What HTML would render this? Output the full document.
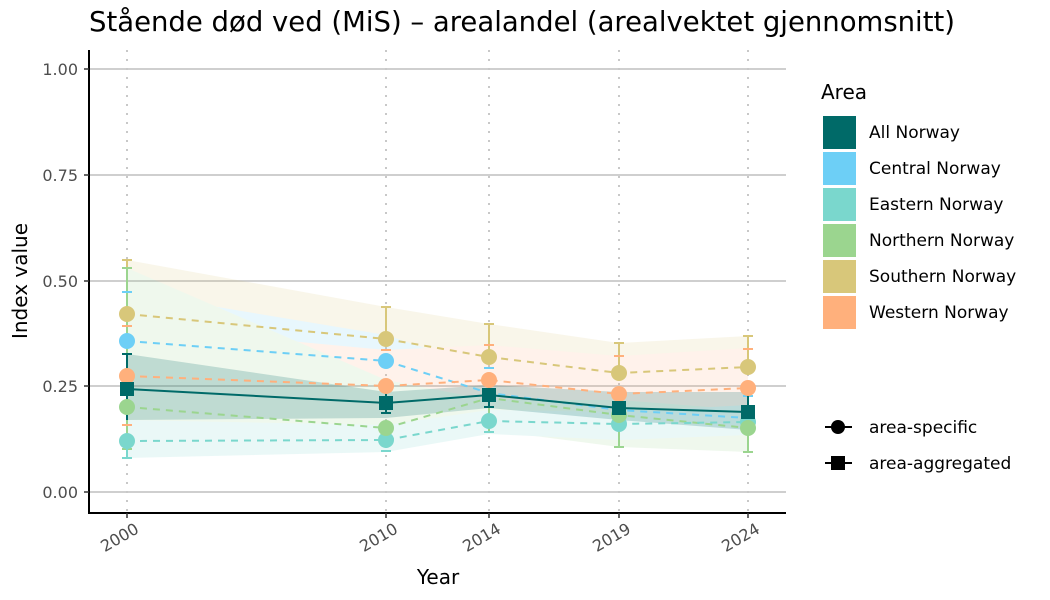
<!DOCTYPE html>
<html><head><meta charset="utf-8"><style>body{margin:0;background:#fff}svg{display:block}text{font-family:"DejaVu Sans","Liberation Sans",sans-serif}</style></head><body>
<svg width="1050" height="600" viewBox="0 0 1050 600" xmlns="http://www.w3.org/2000/svg">
<rect width="1050" height="600" fill="#fff"/>
<text x="89" y="31" font-size="27.5" textLength="866" fill="#000">Stående død ved (MiS) – arealandel (arealvektet gjennomsnitt)</text>
<g stroke="#cfcfcf" stroke-width="2">
<line x1="89" x2="786" y1="69" y2="69"/><line x1="89" x2="786" y1="175" y2="175"/><line x1="89" x2="786" y1="281" y2="281"/><line x1="89" x2="786" y1="386" y2="386"/><line x1="89" x2="786" y1="492" y2="492"/>
</g>
<g stroke="#c8c8c8" stroke-width="2" stroke-dasharray="2,7">
<line x1="127" x2="127" y1="50" y2="513"/><line x1="386" x2="386" y1="50" y2="513"/><line x1="489" x2="489" y1="50" y2="513"/><line x1="619" x2="619" y1="50" y2="513"/><line x1="748" x2="748" y1="50" y2="513"/>
</g>
<g opacity="0.15">
<polygon fill="#D8C77A" points="127,260 386,307 489,324 619,343 748,336 748,395 619,400 489,390 386,375 127,370"/>
<polygon fill="#6DCFF6" points="127,292 386,335 489,370 619,400 748,395 748,440 619,430 489,420 386,390 127,390"/>
<polygon fill="#FFB07C" points="127,326 386,350 489,345 619,356 748,348 748,420 619,430 489,415 386,420 127,425"/>
<polygon fill="#9BD58F" points="127,268 386,380 489,400 619,400 748,410 748,452 619,447 489,430 386,450 127,450"/>
<polygon fill="#7AD7CD" points="127,420 386,425 489,410 619,412 748,405 748,435 619,440 489,434 386,452 127,458"/>
</g>
<polygon fill="#006A68" opacity="0.2" points="127,354 386,392 489,385 619,392 748,392 748,430 619,420 489,408 386,418 127,420"/>
<g stroke-width="2">
<g stroke="#D8C77A"><line x1="127" x2="127" y1="260" y2="314"/><line x1="122" x2="132" y1="260" y2="260"/><line x1="386" x2="386" y1="307" y2="339"/><line x1="381" x2="391" y1="307" y2="307"/><line x1="489" x2="489" y1="324" y2="357"/><line x1="484" x2="494" y1="324" y2="324"/><line x1="619" x2="619" y1="343" y2="373"/><line x1="614" x2="624" y1="343" y2="343"/><line x1="748" x2="748" y1="336" y2="367"/><line x1="743" x2="753" y1="336" y2="336"/></g>
<g stroke="#9BD58F"><line x1="122" x2="132" y1="268" y2="268"/><line x1="127" x2="127" y1="268" y2="450"/><line x1="122" x2="132" y1="449" y2="449"/><line x1="619" x2="619" y1="415" y2="447"/><line x1="614" x2="624" y1="447" y2="447"/><line x1="748" x2="748" y1="428" y2="452"/><line x1="743" x2="753" y1="452" y2="452"/><line x1="489" x2="489" y1="398" y2="432"/></g>
<g stroke="#6DCFF6"><line x1="122" x2="132" y1="292" y2="292"/><line x1="743" x2="753" y1="396" y2="396"/><line x1="484" x2="494" y1="368" y2="368"/></g>
<g stroke="#FFB07C"><line x1="122" x2="132" y1="326" y2="326"/><line x1="122" x2="132" y1="425" y2="425"/><line x1="381" x2="391" y1="350" y2="350"/><line x1="484" x2="494" y1="345" y2="345"/><line x1="614" x2="624" y1="356" y2="356"/><line x1="743" x2="753" y1="349" y2="349"/></g>
<g stroke="#7AD7CD"><line x1="127" x2="127" y1="441" y2="458"/><line x1="122" x2="132" y1="458" y2="458"/><line x1="381" x2="391" y1="451" y2="451"/><line x1="484" x2="494" y1="432" y2="432"/></g>
<g stroke="#006A68"><line x1="127" x2="127" y1="354" y2="420"/><line x1="122" x2="132" y1="354" y2="354"/><line x1="386" x2="386" y1="392" y2="413"/><line x1="381" x2="391" y1="413" y2="413"/><line x1="489" x2="489" y1="385" y2="407"/><line x1="484" x2="494" y1="407" y2="407"/><line x1="748" x2="748" y1="395" y2="430"/></g>
</g>
<g fill="none" stroke-width="2" stroke-dasharray="7,6">
<polyline stroke="#D8C77A" points="127,314 386,339 489,357 619,373 748,367"/>
<polyline stroke="#6DCFF6" points="127,341 386,361 489,393 619,410 748,418"/>
<polyline stroke="#FFB07C" points="127,376 386,386 489,380 619,394 748,388"/>
<polyline stroke="#9BD58F" points="127,407 386,428 489,398 619,415 748,428"/>
<polyline stroke="#7AD7CD" points="127,441 386,440 489,421 619,424 748,422"/>
</g>
<polyline fill="none" stroke="#006A68" stroke-width="2" points="127,389 386,403 489,395 619,408 748,412"/>
<g>
<g fill="#7AD7CD"><circle cx="127" cy="441" r="8"/><circle cx="386" cy="440" r="8"/><circle cx="489" cy="421" r="8"/><circle cx="619" cy="424" r="8"/><circle cx="748" cy="422" r="8"/></g>
<g fill="#9BD58F"><circle cx="127" cy="407" r="8"/><circle cx="386" cy="428" r="8"/><circle cx="619" cy="415" r="8"/><circle cx="748" cy="428" r="8"/></g>
<g fill="#6DCFF6"><circle cx="127" cy="341" r="8"/><circle cx="386" cy="361" r="8"/></g>
<g fill="#D8C77A"><circle cx="127" cy="314" r="8"/><circle cx="386" cy="339" r="8"/><circle cx="489" cy="357" r="8"/><circle cx="619" cy="373" r="8"/><circle cx="748" cy="367" r="8"/></g>
<g fill="#FFB07C"><circle cx="127" cy="376" r="8"/><circle cx="386" cy="386" r="8"/><circle cx="489" cy="380" r="8"/><circle cx="619" cy="394" r="8"/><circle cx="748" cy="388" r="8"/></g>
<g fill="#006A68"><rect x="120" y="382" width="14" height="14"/><rect x="379" y="396" width="14" height="14"/><rect x="482" y="388" width="14" height="14"/><rect x="612" y="401" width="14" height="14"/><rect x="741" y="405" width="14" height="14"/></g>
</g>
<g stroke="#000" stroke-width="2"><line x1="89" x2="89" y1="50" y2="514"/><line x1="88" x2="786" y1="513" y2="513"/></g>
<g stroke="#333" stroke-width="1.5">
<line x1="84" x2="89" y1="69" y2="69"/><line x1="84" x2="89" y1="175" y2="175"/><line x1="84" x2="89" y1="281" y2="281"/><line x1="84" x2="89" y1="386" y2="386"/><line x1="84" x2="89" y1="492" y2="492"/>
<line x1="127" x2="127" y1="513" y2="518"/><line x1="386" x2="386" y1="513" y2="518"/><line x1="489" x2="489" y1="513" y2="518"/><line x1="619" x2="619" y1="513" y2="518"/><line x1="748" x2="748" y1="513" y2="518"/>
</g>
<g font-size="16" fill="#4d4d4d" text-anchor="end">
<text x="78" y="75">1.00</text><text x="78" y="181">0.75</text><text x="78" y="287">0.50</text><text x="78" y="392">0.25</text><text x="78" y="498">0.00</text>
</g>
<g font-size="16" fill="#4d4d4d" text-anchor="end">
<text transform="translate(140,532) rotate(-30)">2000</text>
<text transform="translate(399,532) rotate(-30)">2010</text>
<text transform="translate(502,532) rotate(-30)">2014</text>
<text transform="translate(632,532) rotate(-30)">2019</text>
<text transform="translate(761,532) rotate(-30)">2024</text>
</g>
<text x="438" y="584" font-size="20" text-anchor="middle">Year</text>
<text transform="translate(27,281) rotate(-90)" font-size="20" text-anchor="middle">Index value</text>
<text x="821" y="99" font-size="20">Area</text>
<rect x="823" y="116" width="33" height="33" fill="#006A68"/>
<rect x="823" y="152" width="33" height="33" fill="#6DCFF6"/>
<rect x="823" y="188" width="33" height="33" fill="#7AD7CD"/>
<rect x="823" y="224" width="33" height="33" fill="#9BD58F"/>
<rect x="823" y="260" width="33" height="33" fill="#D8C77A"/>
<rect x="823" y="296" width="33" height="33" fill="#FFB07C"/>
<g font-size="17" fill="#000">
<text x="869" y="138">All Norway</text><text x="869" y="174">Central Norway</text><text x="869" y="210">Eastern Norway</text><text x="869" y="246">Northern Norway</text><text x="869" y="282">Southern Norway</text><text x="869" y="318">Western Norway</text>
<text x="869" y="433">area-specific</text><text x="869" y="469">area-aggregated</text>
</g>
<line x1="825" x2="852" y1="427" y2="427" stroke="#000" stroke-width="2"/><circle cx="838" cy="427" r="7" fill="#000"/>
<line x1="825" x2="852" y1="463" y2="463" stroke="#000" stroke-width="2"/><rect x="831" y="456" width="14" height="14" fill="#000"/>
</svg>
</body></html>
